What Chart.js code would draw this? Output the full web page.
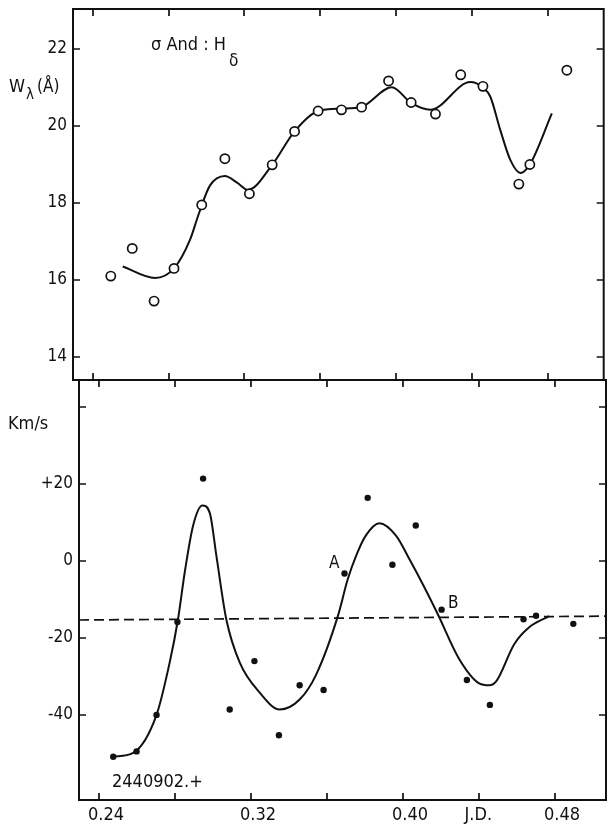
<!DOCTYPE html>
<html>
<head>
<meta charset="utf-8">
<script src="https://cdn.jsdelivr.net/npm/chart.js@4.4.0/dist/chart.umd.min.js"></script>
<style>
  body { margin: 0; background: #fff; }
  #wrap { position: relative; width: 610px; height: 825px; }
  canvas { position: absolute; left: 0; }
  #topChart { top: 0; }
  #bottomChart { top: 370px; }
</style>
</head>
<body>
<div id="wrap">
  <canvas id="topChart" width="610" height="400"></canvas>
  <canvas id="bottomChart" width="610" height="455"></canvas>
</div>
<script>
// J.D. ticks (2440902.+)
const xTicks = [0.24, 0.28, 0.32, 0.36, 0.40, 0.44, 0.48]
const xTickLabels = ['0.24', '', '0.32', '', '0.40', 'J.D.   ', '0.48']

// upper panel: equivalent width of H delta
const wTicks = [14, 16, 18, 20, 22]
const wJD = [0.2496, 0.2609, 0.2724, 0.2829, 0.2975, 0.3097, 0.3226, 0.3346, 0.3464, 0.3588, 0.3711,
             0.3817, 0.3959, 0.4078, 0.4206, 0.4339, 0.4456, 0.4645, 0.4703, 0.4898]
const wValues = [16.10, 16.82, 15.45, 16.30, 17.95, 19.15, 18.24, 18.99, 19.86, 20.39, 20.42,
                 20.49, 21.17, 20.61, 20.31, 21.33, 21.03, 18.49, 19.00, 21.45]
const wCurveJD = [0.2559, 0.2729, 0.2829, 0.2913, 0.2961, 0.3018, 0.3097, 0.3163, 0.3218, 0.3346, 0.3464,
                  0.3588, 0.3711, 0.3817, 0.3976, 0.4078, 0.4179, 0.4389, 0.4456, 0.4495, 0.4547,
                  0.4600, 0.4653, 0.4703, 0.4819]
const wCurve = [16.35, 16.05, 16.30, 17.04, 17.74, 18.45, 18.70, 18.52, 18.34, 18.99, 19.86,
                20.39, 20.45, 20.50, 21.01, 20.60, 20.42, 21.14, 21.00, 20.76, 19.90,
                19.12, 18.78, 19.00, 20.33]

// lower panel: radial velocity
const vTicks = [-40, -20, 0, 20, 40]
const vTickLabels = ['-40', '-20', '0', '+20', '']
const vJD = [0.2475, 0.2598, 0.2703, 0.2813, 0.2948, 0.3088, 0.3218, 0.3347, 0.3456, 0.3582, 0.3692,
             0.3814, 0.3944, 0.4067, 0.4203, 0.4336, 0.4457, 0.4634, 0.4700, 0.4896]
const vValues = [-51.0, -49.6, -40.1, -15.9, 21.4, -38.7, -26.1, -45.4, -32.4, -33.6, -3.3,
                 16.4, -1.0, 9.2, -12.7, -31.0, -37.5, -15.2, -14.3, -16.4]
const vCurveJD = [0.2475, 0.2580, 0.2703, 0.2772, 0.2816, 0.2851, 0.2895, 0.2944, 0.2983, 0.3018, 0.3070,
                  0.3141, 0.3246, 0.3351, 0.3456, 0.3543, 0.3657, 0.3709, 0.3753, 0.3803, 0.3876,
                  0.3964, 0.4034, 0.4104, 0.4183, 0.4296, 0.4401, 0.4454, 0.4490, 0.4585, 0.4664, 0.4769]
const vCurve = [-51.0, -50.0, -40.1, -26.5, -15.2, -3.1, 9.1, 14.4, 12.5, 1.3, -15.2,
                -26.5, -34.3, -38.7, -36.1, -29.6, -14.4, -4.8, 1.3, 6.5, 9.8,
                6.5, 0.4, -6.1, -13.9, -25.6, -31.9, -32.4, -31.4, -21.7, -17.3, -14.4]
const gammaJD = [0.2295, 0.5068]
const gammaV = [-15.4, -14.4]

const FONT = '"DejaVu Sans Condensed", "DejaVu Sans", sans-serif'
const INK = '#111'

let pts = (xs, ys) => xs.map((x, i) => ({x: x, y: ys[i]}))

// frame, inward ticks and the free texts
const framePlugin = {
    id: 'frame',
    afterDatasetsDraw(chart, args, opts) {
        const {ctx, chartArea: a, scales} = chart
        const x = scales.x, y = scales.y
        ctx.save()
        ctx.strokeStyle = INK
        ctx.lineWidth = 2
        ctx.strokeRect(a.left, a.top, a.right - a.left, a.bottom - a.top)
        ctx.lineWidth = 1.7
        ctx.beginPath()
        xTicks.forEach(v => {
            let px = Math.round(x.getPixelForValue(v))
            ctx.moveTo(px, a.top); ctx.lineTo(px, a.top + 7)
            ctx.moveTo(px, a.bottom); ctx.lineTo(px, a.bottom - 7)
        })
        opts.yTicks.forEach(v => {
            let py = Math.round(y.getPixelForValue(v))
            ctx.moveTo(a.left, py); ctx.lineTo(a.left + 7, py)
            ctx.moveTo(a.right, py); ctx.lineTo(a.right - 7, py)
        })
        ctx.stroke()
        ctx.fillStyle = INK
        ctx.textBaseline = 'alphabetic'
        opts.texts.forEach(t => {
            ctx.font = t.size + 'px ' + FONT
            ctx.fillText(t.text, t.x, t.y)
        })
        ctx.restore()
    }
}

function yScale(min, max, ticks, labels, width) {
    return {
        type: 'linear', min: min, max: max,
        grid: {display: false, drawTicks: false},
        border: {display: false},
        afterBuildTicks: s => { s.ticks = ticks.map(v => ({value: v})) },
        afterFit: s => { s.width = width; s.paddingTop = 0; s.paddingBottom = 0 },
        ticks: {
            color: INK, padding: 6,
            font: {family: FONT, size: 17},
            callback: (v, i) => labels ? labels[i] : String(v)
        }
    }
}

new Chart(document.getElementById('topChart'), {
    type: 'scatter',
    data: {
        datasets: [{
            data: pts(wJD, wValues),
            pointStyle: 'circle', pointRadius: 4.6, pointBorderWidth: 1.7,
            pointBackgroundColor: '#fff', pointBorderColor: INK,
            order: 0
        }, {
            data: pts(wCurveJD, wCurve),
            showLine: true, borderColor: INK, borderWidth: 2,
            cubicInterpolationMode: 'monotone', pointRadius: 0,
            order: 1
        }]
    },
    options: {
        responsive: false, animation: false, devicePixelRatio: 1,
        layout: {padding: {left: 0, right: 6, top: 9, bottom: 20}},
        scales: {
            x: {type: 'linear', display: false, min: 0.2297, max: 0.5092},
            y: yScale(13.40, 23.04, wTicks, null, 73)
        },
        plugins: {
            legend: {display: false}, tooltip: {enabled: false},
            frame: {
                yTicks: wTicks,
                texts: [
                    {text: 'W', x: 9, y: 92, size: 18},
                    {text: 'λ', x: 26, y: 99, size: 15},
                    {text: '(Å)', x: 37, y: 92, size: 17},
                    {text: 'σ And : H', x: 151, y: 50, size: 18},
                    {text: 'δ', x: 229, y: 66, size: 17}
                ]
            }
        }
    },
    plugins: [framePlugin]
})

new Chart(document.getElementById('bottomChart'), {
    type: 'scatter',
    data: {
        datasets: [{
            data: pts(vJD, vValues),
            pointStyle: 'circle', pointRadius: 3.2, pointBorderWidth: 0,
            pointBackgroundColor: INK,
            order: 0
        }, {
            data: pts(vCurveJD, vCurve),
            showLine: true, borderColor: INK, borderWidth: 2,
            cubicInterpolationMode: 'monotone', pointRadius: 0,
            order: 1
        }, {
            data: pts(gammaJD, gammaV),
            showLine: true, borderColor: INK, borderWidth: 1.7,
            borderDash: [10, 5], pointRadius: 0,
            order: 2
        }]
    },
    options: {
        responsive: false, animation: false, devicePixelRatio: 1,
        layout: {padding: {left: 0, right: 3, top: 10, bottom: 0}},
        scales: {
            x: {
                type: 'linear', min: 0.2295, max: 0.5068,
                grid: {display: false, drawTicks: false},
                border: {display: false},
                afterBuildTicks: s => { s.ticks = xTicks.map(v => ({value: v})) },
                afterFit: s => { s.height = 25; s.paddingLeft = 0; s.paddingRight = 0 },
                ticks: {
                    color: INK, padding: 5, autoSkip: false, maxRotation: 0, labelOffset: 7,
                    font: {family: FONT, size: 18},
                    callback: (v, i) => xTickLabels[i]
                }
            },
            y: yScale(-62.25, 47.07, vTicks, vTickLabels, 79)
        },
        plugins: {
            legend: {display: false}, tooltip: {enabled: false},
            frame: {
                yTicks: vTicks,
                texts: [
                    {text: 'Km/s', x: 8, y: 59, size: 18},
                    {text: '2440902.+', x: 112, y: 417, size: 18},
                    {text: 'A', x: 329, y: 198, size: 17},
                    {text: 'B', x: 448, y: 238, size: 17}
                ]
            }
        }
    },
    plugins: [framePlugin]
})
</script>
</body>
</html>
